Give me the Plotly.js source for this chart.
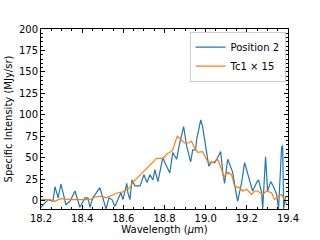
<!DOCTYPE html>
<html>
<head>
<meta charset="utf-8">
<script src="https://cdn.plot.ly/plotly-3.0.1.min.js"></script>
<style>
  html, body { margin: 0; padding: 0; background: #fff; }
  #graph { width: 320px; height: 240px; }
</style>
</head>
<body>
<div id="graph"></div>
<script>
// Position 2 spectrum
var pos2Wave = [18.195, 18.234, 18.258, 18.268, 18.283, 18.297, 18.321, 18.341, 18.365, 18.389,
    18.414, 18.428, 18.438, 18.452, 18.486, 18.501, 18.516, 18.530, 18.545, 18.559,
    18.574, 18.588, 18.598, 18.617, 18.622, 18.632, 18.642, 18.656, 18.681, 18.700,
    18.715, 18.729, 18.744, 18.753, 18.768, 18.783, 18.792, 18.802, 18.826, 18.840,
    18.859, 18.874, 18.893, 18.908, 18.927, 18.937, 18.951, 18.956, 18.976, 18.985,
    19.000, 19.015, 19.029, 19.044, 19.058, 19.073, 19.083, 19.092, 19.107, 19.131,
    19.155, 19.175, 19.189, 19.214, 19.228, 19.248, 19.257, 19.272, 19.277, 19.291,
    19.301, 19.316, 19.330, 19.345, 19.354, 19.369, 19.374, 19.379, 19.388];
var pos2Flux = [-9, 1, -1, 16, 3, 19, -5, -1, 11, -8,
    3, 3, -8, 3, 15, 1, -10, 3, 1, -7,
    1, 9, 1, 20, 9, 1, 24, 17, 17, 30,
    21, 30, 24, 36, 22, 38, 50, 44, 32, 56,
    48, 67, 86, 63, 45, 59, 59, 71, 94, 86,
    65, 40, 45, 44, 50, 57, 33, 20, 48, 33,
    -1, 21, 44, 21, 11, 21, 24, 9, -10, 51,
    11, 22, 16, 7, -10, 62, 64, -10, 5];

// Tc1 model scaled by 15
var tcWave = [18.200, 18.244, 18.268, 18.293, 18.341, 18.438, 18.462, 18.496, 18.516, 18.535,
    18.574, 18.598, 18.632, 18.646, 18.762, 18.792, 18.816, 18.826, 18.840, 18.859,
    18.864, 18.879, 18.898, 18.913, 18.932, 18.942, 18.961, 18.985, 19.010, 19.034,
    19.058, 19.078, 19.087, 19.107, 19.126, 19.141, 19.165, 19.180, 19.199, 19.223,
    19.238, 19.252, 19.277, 19.296, 19.320, 19.335, 19.349, 19.369, 19.393];
var tcFlux = [1, 1, -1, 2, 1, 1, 4, 5, 3, 5,
    9, 10, 15, 21, 49, 49, 55, 56, 59, 73,
    75, 71, 67, 67, 69, 63, 56, 57, 45, 44,
    48, 36, 27, 33, 30, 16, 15, 11, 13, 7,
    11, 11, 7, 11, 9, 1, 4, 7, -4];

var fnt = { family: 'DejaVu Sans', size: 10, color: '#000' };

var traces = [
    { x: pos2Wave, y: pos2Flux, name: 'Position 2', mode: 'lines',
      line: { color: '#1f77b4', width: 1.2 } },
    { x: tcWave, y: tcFlux, name: 'Tc1 × 15', mode: 'lines',
      line: { color: '#ff7f0e', width: 1.2 } }
];

var layout = {
    width: 320, height: 240,
    margin: { l: 41, r: 32, t: 29, b: 31 },
    paper_bgcolor: '#fff', plot_bgcolor: '#fff',
    font: fnt,
    showlegend: true,
    legend: {
        x: 0.99, y: 0.985, xanchor: 'right', yanchor: 'top',
        bgcolor: 'rgba(255,255,255,0.8)', bordercolor: '#ccc', borderwidth: 1,
        font: fnt, tracegroupgap: 0, itemwidth: 30
    },
    xaxis: {
        range: [18.2, 19.4], dtick: 0.2, tick0: 18.2, tickformat: '.1f',
        ticks: 'inside', ticklen: 4, tickcolor: '#000', tickwidth: 1,
        showline: true, linecolor: '#000', linewidth: 1, mirror: 'allticks',
        showgrid: false, zeroline: false,
        minor: { ticks: 'inside', dtick: 0.05, ticklen: 2, tickcolor: '#000', showgrid: false },
        tickfont: fnt,
        title: { text: 'Wavelength (<i>μ</i>m)', font: fnt, standoff: 0 }
    },
    yaxis: {
        range: [-10, 200], dtick: 25, tick0: 0,
        ticks: 'inside', ticklen: 4, tickcolor: '#000', tickwidth: 1,
        showline: true, linecolor: '#000', linewidth: 1, mirror: 'allticks',
        showgrid: false, zeroline: false,
        minor: { ticks: 'inside', dtick: 5, ticklen: 2, tickcolor: '#000', showgrid: false },
        tickfont: fnt,
        title: { text: 'Specific Intensity (MJy/sr)', font: fnt, standoff: 4 }
    }
};

Plotly.newPlot('graph', traces, layout, { staticPlot: true, displayModeBar: false });
</script>
</body>
</html>
